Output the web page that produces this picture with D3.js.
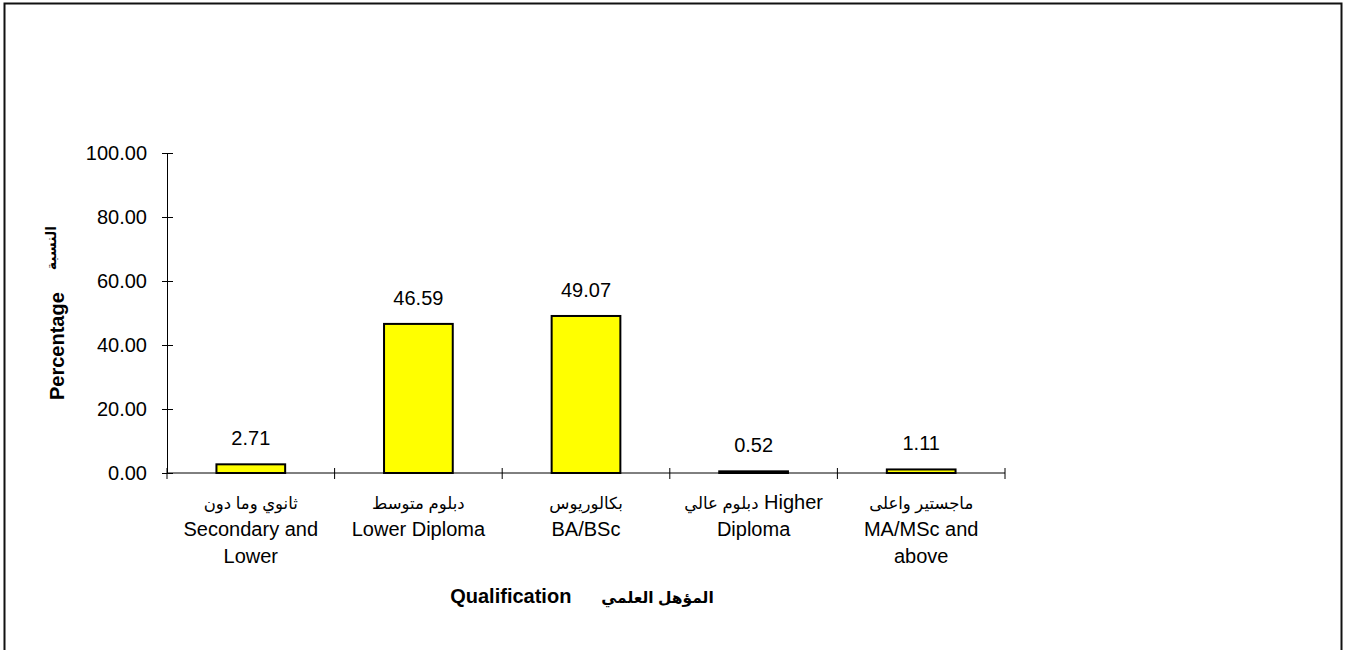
<!DOCTYPE html>
<html>
<head>
<meta charset="utf-8">
<script src="https://cdn.jsdelivr.net/npm/d3@7"></script>
<style>
  html, body { margin: 0; padding: 0; background: #fff; }
  svg { display: block; font-family: "Liberation Sans", Arial, "DejaVu Sans", sans-serif; }
</style>
</head>
<body>
<svg id="chart" width="1349" height="650"></svg>
<script>
// ---- data ----
const categoriesArabic = ["ثانوي وما دون", "دبلوم متوسط", "بكالوريوس", "دبلوم عالي", "ماجستير واعلى"];
const arabicTrail = ["", "", "", "Higher", ""];
const categoriesEnglish = [["Secondary and", "Lower"], ["Lower Diploma"], ["BA/BSc"], ["Diploma"], ["MA/MSc and", "above"]];
const values = [2.71, 46.59, 49.07, 0.52, 1.11];
const yTicks = [0, 20, 40, 60, 80, 100];
const yTitleEn = "Percentage";
const yTitleAr = "النسبة";
const xTitleEn = "Qualification";
const xTitleAr = "المؤهل العلمي";

// ---- layout ----
const svg = d3.select("#chart");
const plotLeft = 167, plotRight = 1005, plotTop = 153, plotBottom = 473;
const fs = 20, fsAr = 16.5;

svg.append("rect")
  .attr("x", 4.5).attr("y", 3.5).attr("width", 1337).attr("height", 660)
  .attr("fill", "none").attr("stroke", "#111").attr("stroke-width", 2);

const idx = d3.range(values.length);
const x = d3.scaleBand().domain(idx).range([plotLeft, plotRight]).paddingInner(0).paddingOuter(0);
const y = d3.scaleLinear().domain([0, 100]).range([plotBottom, plotTop]);

// y axis
const yAxis = svg.append("g").attr("transform", `translate(${plotLeft},0)`)
  .call(d3.axisLeft(y).tickValues(yTicks).tickFormat(d3.format(".2f")).tickSize(5).tickPadding(15));
yAxis.select(".domain").attr("stroke", "#000");
yAxis.selectAll(".tick line").attr("x1", 6).attr("x2", -5).attr("stroke", "#000");
yAxis.selectAll(".tick text").attr("font-size", fs).attr("fill", "#000")
  .attr("font-family", "Liberation Sans, Arial, sans-serif");

// x axis line + boundary ticks
const boundaries = idx.map(i => x(i)).concat([x.range()[1]]);
const xAxis = svg.append("g").attr("transform", `translate(0,${plotBottom})`);
xAxis.append("line").attr("x1", plotLeft).attr("x2", plotRight).attr("y1", 0).attr("y2", 0)
  .attr("stroke", "#000");
xAxis.selectAll("line.tk").data(boundaries).join("line").attr("class", "tk")
  .attr("x1", d => d).attr("x2", d => d).attr("y1", -5).attr("y2", 6)
  .attr("stroke", "#000");

// bars
const barW = x.bandwidth() * 0.41;
svg.append("g").selectAll("rect").data(values).join("rect")
  .attr("x", (d, i) => x(i) + x.bandwidth() / 2 - barW / 2)
  .attr("y", d => y(d))
  .attr("width", barW)
  .attr("height", d => y(0) - y(d))
  .attr("fill", "#ffff00")
  .attr("stroke", "#000")
  .attr("stroke-width", 2);

// value labels
svg.append("g").selectAll("text").data(values).join("text")
  .attr("x", (d, i) => x(i) + x.bandwidth() / 2)
  .attr("y", d => y(d) - 19)
  .attr("text-anchor", "middle")
  .attr("font-size", fs)
  .attr("fill", "#000")
  .text(d => d3.format(".2f")(d));

// category labels
const catG = svg.append("g");
idx.forEach(i => {
  const cx = x(i) + x.bandwidth() / 2;
  const t0 = catG.append("text")
    .attr("x", cx)
    .attr("y", plotBottom + 36)
    .attr("text-anchor", "middle")
    .attr("fill", "#000");
  t0.append("tspan").attr("font-size", fsAr).text(categoriesArabic[i]);
  if (arabicTrail[i]) t0.append("tspan").attr("font-size", fs).text(" " + arabicTrail[i]);
  categoriesEnglish[i].forEach((ln, j) => {
    catG.append("text")
      .attr("x", cx)
      .attr("y", plotBottom + 36 + (j + 1) * 27)
      .attr("text-anchor", "middle")
      .attr("font-size", fs)
      .attr("fill", "#000")
      .text(ln);
  });
});

// x title
const xt = svg.append("text")
  .attr("x", (plotLeft + plotRight) / 2 - 4)
  .attr("y", 603)
  .attr("text-anchor", "middle")
  .attr("font-size", 20)
  .attr("font-weight", "bold")
  .attr("fill", "#000");
xt.append("tspan").text(xTitleEn);
xt.append("tspan").attr("dx", 30).attr("font-size", 15.5).text(xTitleAr);

// y title
const yt = svg.append("text")
  .attr("transform", `translate(64,${(plotTop + plotBottom) / 2}) rotate(-90)`)
  .attr("text-anchor", "middle")
  .attr("font-size", 20)
  .attr("font-weight", "bold")
  .attr("fill", "#000");
yt.append("tspan").text(yTitleEn);
yt.append("tspan").attr("dx", 22).attr("font-size", 14).attr("dy", -8).text(yTitleAr);
</script>
</body>
</html>
